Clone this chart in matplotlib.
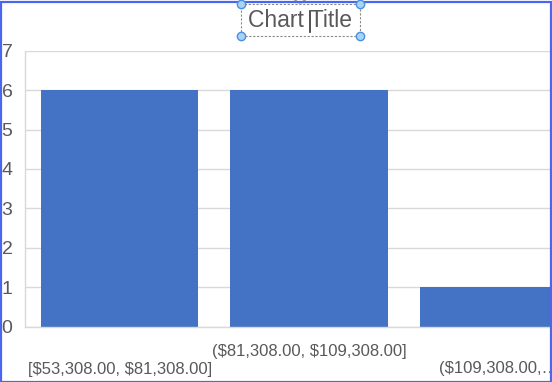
import matplotlib
matplotlib.use("Agg")
import matplotlib.pyplot as plt
from matplotlib.patches import Rectangle, Circle
from matplotlib.lines import Line2D

# ---- data ----
bin_labels = ["[$53,308.00, $81,308.00]",
              "($81,308.00, $109,308.00]",
              "($109,308.00,\u2026"]
counts = [6, 6, 1]
y_ticks = [0, 1, 2, 3, 4, 5, 6, 7]
title_text = "Chart Title"

W, H = 552, 382
DPI = 100
plt.rcParams['font.family'] = ['Liberation Sans', 'DejaVu Sans']

fig = plt.figure(figsize=(W / DPI, H / DPI), dpi=DPI)
fig.patch.set_facecolor('white')


def fx(x):
    return x / W


def fy(y):
    return 1 - y / H


# axes: left 25px, top 50.7px, bottom 326.7px, category width ~189.3px
left, top, bottom = 25, 50.7, 326.7
cat_w = 189.3
ax = fig.add_axes([fx(left), fy(bottom), (cat_w * 3) / W, (bottom - top) / H])

grey_text = '#595959'
grid_col = '#d9d9d9'

x = list(range(len(counts)))
ax.bar(x, counts, width=0.83, color='#4472C4', zorder=3)
ax.set_xlim(-0.5, 2.5)
ax.set_ylim(0, 7)
ax.set_yticks(y_ticks)
ax.set_yticklabels([str(v) for v in y_ticks])
ax.yaxis.grid(True, color=grid_col, linewidth=1.0, zorder=0)
ax.set_axisbelow(True)
ax.tick_params(axis='y', length=0, pad=9, labelsize=14, labelcolor=grey_text)
ax.tick_params(axis='x', length=0, labelbottom=False)
for s in ['top', 'right']:
    ax.spines[s].set_visible(False)
ax.spines['left'].set_color(grid_col)
ax.spines['bottom'].set_color(grid_col)
ax.spines['left'].set_linewidth(1.0)
ax.spines['bottom'].set_linewidth(1.0)
ax.spines['bottom'].set_zorder(4)

# staggered category labels (Excel style)
offsets_px = [-43, -25, -42]
for i, lab in enumerate(bin_labels):
    ax.annotate(lab, xy=(x[i], 0), xycoords=('data', 'axes fraction'),
                xytext=(0, offsets_px[i] * 72 / DPI), textcoords='offset points',
                ha='center', va='center', fontsize=12, color=grey_text,
                annotation_clip=False, parse_math=False)

# title with selection box
fig.text(fx(300), fy(20.5), title_text, ha='center', va='center',
         fontsize=16.5, color=grey_text)
# text cursor
fig.add_artist(Line2D([fx(310), fx(310)], [fy(11), fy(32)], transform=fig.transFigure,
                      color='#333333', linewidth=1.2))
fig.add_artist(Rectangle((fx(240.5), fy(35.5)), fx(359.5) - fx(240.5), fy(4) - fy(35.5),
                         transform=fig.transFigure, fill=False, edgecolor='#8a8a8a',
                         linewidth=0.8, linestyle=(0, (2, 1.5))))
# rotation handle
fig.add_artist(Circle((fx(300), fy(-1)), 5 / W, transform=fig.transFigure,
                      fill=False, edgecolor='#9a9a9a', linewidth=1.5))
for (hx, hy) in [(240.5, 4), (359.5, 4), (240.5, 35.5), (359.5, 35.5)]:
    fig.add_artist(Line2D([fx(hx)], [fy(hy)], transform=fig.transFigure, marker='o',
                          markersize=6, markerfacecolor='#a9d3f5',
                          markeredgecolor='#4a90e2', markeredgewidth=1.0))

# outer blue frame
fig.add_artist(Rectangle((0.5 / W, 0.5 / H), 1 - 2 / W, 1 - 2 / H, transform=fig.transFigure,
                         fill=False, edgecolor='#4a66ee', linewidth=1.6))

fig.savefig('out.png', dpi=DPI)
